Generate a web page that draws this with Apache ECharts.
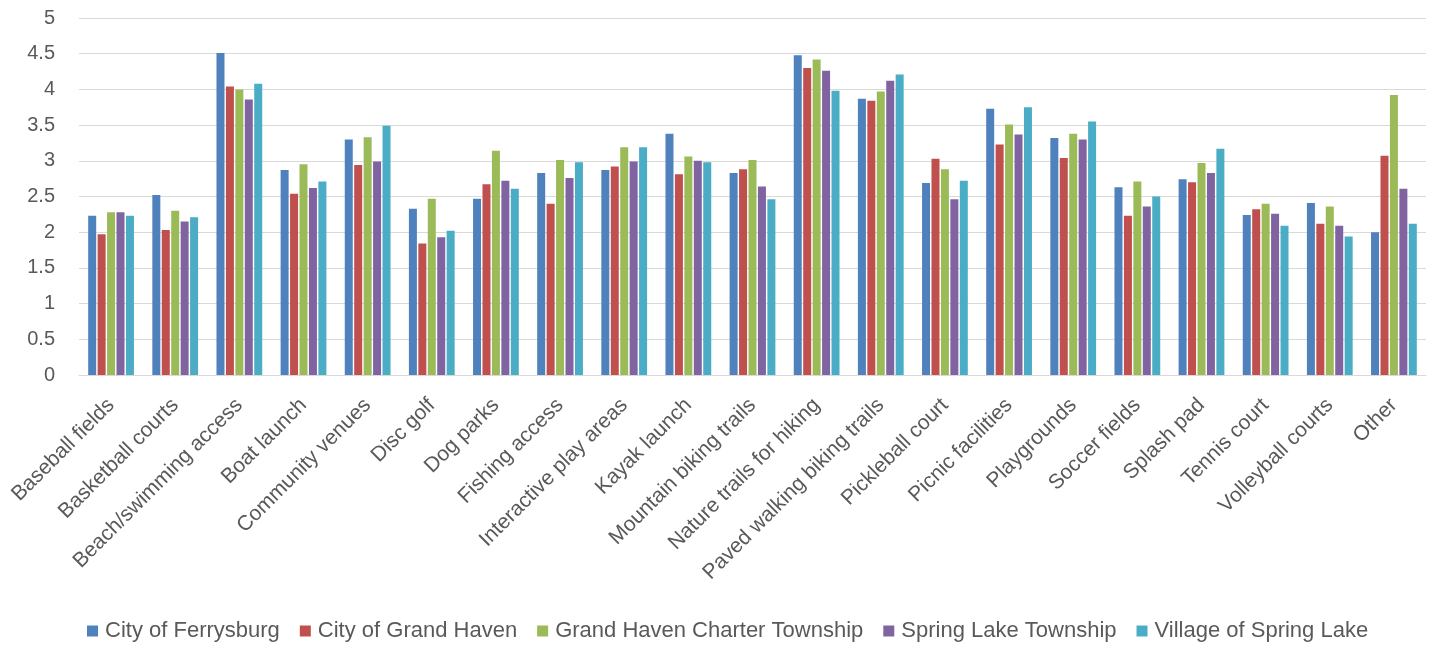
<!DOCTYPE html>
<html>
<head>
<meta charset="utf-8">
<script src="https://cdn.jsdelivr.net/npm/echarts@6/dist/echarts.min.js"></script>
<style>
html,body{margin:0;padding:0;background:#fff;}
#chart{width:1432px;height:645px;}
</style>
</head>
<body>
<div id="chart"></div>
<script>
const categories = ["Baseball fields","Basketball courts","Beach/swimming access","Boat launch","Community venues","Disc golf","Dog parks","Fishing access","Interactive play areas","Kayak launch","Mountain biking trails","Nature trails for hiking","Paved walking biking trails","Pickleball court","Picnic facilities","Playgrounds","Soccer fields","Splash pad","Tennis court","Volleyball courts","Other"];
const seriesNames = ["City of Ferrysburg","City of Grand Haven","Grand Haven Charter Township","Spring Lake Township","Village of Spring Lake"];
const ferrysburg   = [2.23,2.52,4.51,2.87,3.30,2.33,2.47,2.83,2.87,3.38,2.83,4.48,3.87,2.69,3.73,3.32,2.63,2.74,2.24,2.41,2.00];
const grandHaven   = [1.97,2.03,4.04,2.54,2.94,1.84,2.67,2.40,2.92,2.81,2.88,4.30,3.84,3.03,3.23,3.04,2.23,2.70,2.32,2.12,3.07];
const charterTwp   = [2.28,2.30,4.00,2.95,3.33,2.47,3.14,3.01,3.19,3.06,3.01,4.42,3.97,2.88,3.51,3.38,2.71,2.97,2.40,2.36,3.92];
const springLakeTwp= [2.28,2.15,3.86,2.62,2.99,1.93,2.72,2.76,2.99,3.00,2.64,4.26,4.12,2.46,3.37,3.30,2.36,2.83,2.26,2.09,2.61];
const villageSL    = [2.23,2.21,4.08,2.71,3.49,2.02,2.61,2.98,3.19,2.98,2.46,3.98,4.21,2.72,3.75,3.55,2.50,3.17,2.09,1.94,2.12];
const yTicks = [0,0.5,1,1.5,2,2.5,3,3.5,4,4.5,5];

const colors = ['#4F81BD','#C0504D','#9BBB59','#8064A2','#4BACC6'];
const values = [ferrysburg, grandHaven, charterTwp, springLakeTwp, villageSL];
const font = '"Liberation Sans", Arial, sans-serif';

const chart = echarts.init(document.getElementById('chart'));
chart.setOption({
  animation: false,
  color: colors,
  grid: {left: 79, right: 6, top: 18, bottom: 270, containLabel: false},
  legend: {
    top: 615, left: 82,
    itemWidth: 11, itemHeight: 11, itemGap: 20,
    icon: 'rect',
    textStyle: {color: '#595959', fontSize: 22, fontFamily: font, padding: [0, 0, 0, 2]},
    data: seriesNames
  },
  xAxis: {
    type: 'category',
    data: categories,
    axisLine: {lineStyle: {color: '#d9d9d9', width: 1}},
    axisTick: {show: false},
    axisLabel: {rotate: 45, interval: 0, color: '#595959', fontSize: 21, fontFamily: font, margin: 27}
  },
  yAxis: {
    type: 'value', min: 0, max: 5, interval: 0.5,
    axisLine: {show: false}, axisTick: {show: false},
    splitLine: {lineStyle: {color: '#d9d9d9', width: 1}},
    axisLabel: {color: '#595959', fontSize: 20, fontFamily: font, margin: 24,
      formatter: v => yTicks.includes(v) ? String(v) : ''}
  },
  series: seriesNames.map((n, i) => ({
    name: n, type: 'bar', data: values[i],
    barWidth: 8, barGap: '18%',
    itemStyle: {color: colors[i]}
  }))
});
</script>
</body>
</html>
